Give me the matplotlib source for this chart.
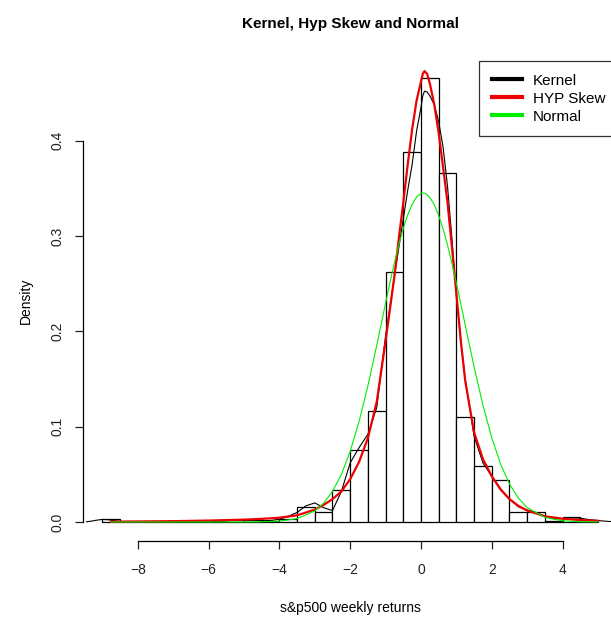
import numpy as np
import matplotlib
matplotlib.use('Agg')
import matplotlib.pyplot as plt

plt.rcParams['font.family'] = ['Liberation Sans', 'DejaVu Sans']

# histogram of weekly returns (density scale, bins of width 0.5)
bin_left = np.arange(-9.0, 5.0, 0.5)
density = [0.003, 0, 0, 0, 0, 0, 0, 0.002, 0.002, 0.0015,
           0.003, 0.016, 0.011, 0.0335, 0.0755, 0.1165, 0.2625, 0.3885,
           0.4655, 0.366, 0.1105, 0.059, 0.044, 0.0105, 0.010, 0.0015,
           0.005, 0.002]

# kernel density estimate
kern_x = [-9.45, -9.3, -9.15, -9.0, -8.85, -8.7, -8.5, -8.3, -8.0, -7.0, -6.0,
          -5.7, -5.5, -5.25, -5.0, -4.8, -4.6, -4.4, -4.2, -4.0, -3.75, -3.5,
          -3.25, -3.0, -2.75, -2.5, -2.25, -2.0, -1.75, -1.5, -1.25, -1.0,
          -0.75, -0.5, -0.375, -0.25, -0.125, 0.0, 0.05, 0.1, 0.175, 0.25,
          0.375, 0.5, 0.625, 0.75, 0.875, 1.0, 1.125, 1.25, 1.5, 1.75,
          2.0, 2.25, 2.5, 2.75, 3.0, 3.25, 3.5, 3.75, 4.0, 4.25, 4.5, 4.75,
          5.0, 5.3, 5.6]
kern_y = [0.0002, 0.001, 0.002, 0.0027, 0.0025, 0.0015, 0.0006, 0.0002, 0.0001,
          0.0001, 0.0002, 0.0005, 0.0012, 0.002, 0.0025, 0.002, 0.0015, 0.0014,
          0.0018, 0.003, 0.006, 0.010, 0.017, 0.020, 0.015, 0.012, 0.032, 0.062,
          0.078, 0.092, 0.120, 0.195, 0.258, 0.318, 0.348, 0.375, 0.41, 0.435,
          0.447, 0.452, 0.451, 0.447, 0.438, 0.420, 0.393, 0.352, 0.297, 0.237,
          0.19, 0.150, 0.090, 0.062, 0.048, 0.035, 0.024, 0.016,
          0.0125, 0.010, 0.006, 0.0035, 0.0035, 0.0045, 0.004, 0.0025, 0.0015,
          0.0006, 0.0002]

# hyperbolic skew fit
hyp_x = [-8.75, -8.0, -7.0, -6.0, -5.0, -4.5, -4.0, -3.5, -3.0, -2.75, -2.5,
         -2.25, -2.0, -1.75, -1.5, -1.25, -1.0, -0.75, -0.625, -0.5, -0.375,
         -0.25, -0.125, 0.0, 0.05, 0.1, 0.175, 0.25, 0.375, 0.5, 0.625, 0.75,
         0.875, 1.0, 1.125, 1.25, 1.5, 1.75, 2.0, 2.25, 2.5, 2.75, 3.0, 3.5,
         4.0, 4.5, 5.0]
hyp_y = [0.0004, 0.0006, 0.0009, 0.0015, 0.0025, 0.0033, 0.0045, 0.007, 0.013,
         0.018, 0.024, 0.032, 0.045, 0.063, 0.088, 0.126, 0.19, 0.258, 0.298,
         0.335, 0.375, 0.412, 0.442, 0.462, 0.470, 0.473, 0.470, 0.460, 0.438,
         0.408, 0.372, 0.335, 0.288, 0.240, 0.19, 0.148, 0.094, 0.066,
         0.048, 0.034, 0.024, 0.017, 0.012, 0.006, 0.0035, 0.002, 0.0012]

# normal fit
norm_x = [-8.75, -5.0, -4.5, -4.0, -3.5, -3.0, -2.75, -2.5, -2.25, -2.0, -1.75,
          -1.5, -1.25, -1.125, -1.0, -0.875, -0.75, -0.625, -0.5, -0.375, -0.25,
          -0.125, 0.0, 0.125, 0.25, 0.375, 0.5, 0.625, 0.75, 0.875, 1.0, 1.125,
          1.25, 1.5, 1.75, 2.0, 2.25, 2.5, 2.75, 3.0, 3.5, 4.0, 4.5, 5.0]
norm_y = [0.0, 0.00002, 0.0002, 0.0009, 0.0035, 0.0116, 0.0198, 0.0321, 0.0499,
          0.0742, 0.1053, 0.1429, 0.1853, 0.2074, 0.2296, 0.2514, 0.272, 0.2911,
          0.308, 0.3222, 0.3332, 0.3408, 0.345, 0.3449, 0.3405, 0.3328, 0.3216,
          0.3073, 0.2904, 0.2712, 0.2505, 0.2288, 0.2066, 0.1628, 0.1226, 0.0883,
          0.0607, 0.0399, 0.0251, 0.0151, 0.0048, 0.00125, 0.00027, 0.00005]

x_ticks = [-8, -6, -4, -2, 0, 2, 4]
y_ticks = [0.0, 0.1, 0.2, 0.3, 0.4]

fig = plt.figure(figsize=(6.11, 6.18), dpi=100)
ax = fig.add_axes([0.1352, 0.1251, 0.8759, 0.7762])

ax.bar(bin_left, density, width=0.5, align='edge', color='white',
       edgecolor='black', linewidth=0.9)
ax.plot(kern_x, kern_y, color='black', lw=0.8, label='Kernel')
ax.plot(hyp_x, hyp_y, color='#ee0000', lw=1.6, label='HYP Skew')
ax.plot(norm_x, norm_y, color='#00ee00', lw=0.8, label='Normal')

ax.set_xlim(-9.56, 5.56)
ax.set_ylim(-0.0196, 0.4836)

for s in ['top', 'right']:
    ax.spines[s].set_visible(False)
ax.spines['bottom'].set_bounds(-8, 4)
ax.spines['left'].set_bounds(0, 0.4)
ax.spines['bottom'].set_linewidth(0.9)
ax.spines['left'].set_linewidth(0.9)

ax.set_xticks(x_ticks)
ax.set_xticklabels(['\u22128', '\u22126', '\u22124', '\u22122', '0', '2', '4'])
ax.set_yticks(y_ticks)
ax.set_yticklabels(['0.0', '0.1', '0.2', '0.3', '0.4'], rotation=90, va='center')
ax.tick_params(axis='both', length=6, width=0.9, labelsize=10, colors='#222222')
ax.tick_params(axis='x', pad=10)
ax.tick_params(axis='y', pad=7)

ax.set_title('Kernel, Hyp Skew and Normal', fontsize=11, fontweight='bold', pad=24)
ax.set_xlabel('s&p500 weekly returns', fontsize=10, labelpad=17)
ax.set_ylabel('Density', fontsize=10, labelpad=13)

leg_handles = [plt.Line2D([], [], color='black', lw=3),
               plt.Line2D([], [], color='#ee0000', lw=3),
               plt.Line2D([], [], color='#00ee00', lw=3)]
leg = ax.legend(leg_handles, ['Kernel', 'HYP Skew', 'Normal'], loc='upper right',
                bbox_to_anchor=(1.0, 1.0), borderaxespad=0, fancybox=False,
                edgecolor='black', fontsize=11, handlelength=2.0,
                handletextpad=0.7, labelspacing=0.27, borderpad=0.82)
leg.get_frame().set_linewidth(0.9)

fig.savefig('out.png', dpi=100)
